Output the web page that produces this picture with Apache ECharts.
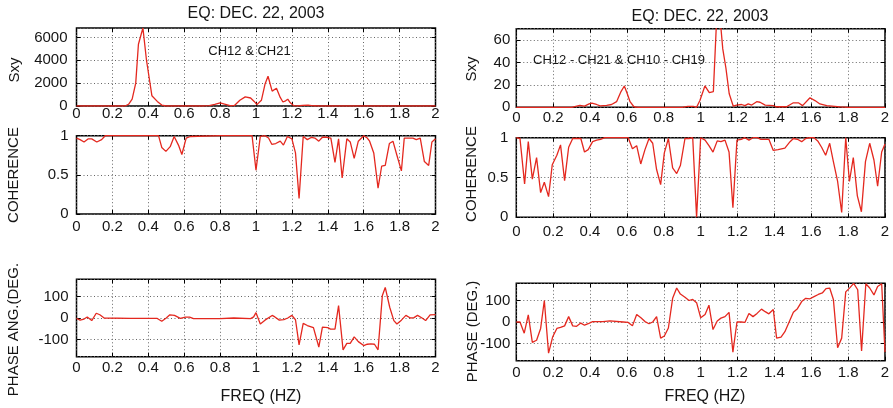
<!DOCTYPE html>
<html><head><meta charset="utf-8">
<script src="https://cdn.jsdelivr.net/npm/echarts@6/dist/echarts.min.js"></script>
<style>html,body{margin:0;padding:0;background:#fff}#c{width:893px;height:408px}</style>
</head><body><div id="c"></div>
<script>
// ---------- data ----------
const xTicks = [0,0.2,0.4,0.6,0.8,1,1.2,1.4,1.6,1.8,2];

// Left column: CH12 & CH21
const sxyLeftFreq = [0,0.1,0.2,0.27,0.29,0.31,0.33,0.345,0.37,0.39,0.42,0.45,0.475,0.5,0.6,0.7,0.74,0.77,0.8,0.83,0.86,0.88,0.91,0.94,0.97,0.99,1.005,1.03,1.05,1.067,1.09,1.114,1.135,1.15,1.165,1.177,1.19,1.21,1.23,1.26,1.29,1.32,1.35,2.0];
const sxyLeftVal  = [0,0,0,0,150,600,2000,5400,6820,4000,900,400,80,0,0,0,30,150,280,150,20,50,500,800,700,400,120,500,1900,2600,1300,1550,750,350,450,600,300,30,0,50,80,20,0,0];

const cohLeftFreq = [0,0.02,0.042,0.066,0.085,0.113,0.14,0.16,0.3,0.457,0.475,0.498,0.522,0.544,0.568,0.587,0.611,0.634,0.8,0.978,0.987,1.0,1.024,1.05,1.07,1.088,1.11,1.135,1.153,1.175,1.2,1.22,1.24,1.263,1.286,1.31,1.328,1.35,1.37,1.395,1.417,1.44,1.46,1.48,1.506,1.525,1.547,1.57,1.6,1.62,1.633,1.656,1.68,1.7,1.72,1.743,1.763,1.785,1.81,1.826,1.85,1.874,1.893,1.915,1.938,1.962,1.98,2.0];
const cohLeftVal  = [0.97,0.95,0.92,0.96,0.96,0.92,0.95,1.0,1.0,1.0,0.85,0.8,0.86,0.99,0.88,0.76,0.97,0.99,1.0,1.0,0.98,0.56,0.99,1.0,0.97,0.89,0.9,0.93,0.88,0.99,0.96,0.78,0.2,0.99,0.95,0.98,0.97,0.93,0.98,0.98,0.97,0.66,0.96,0.46,0.96,0.92,0.71,0.93,1.0,0.97,0.93,0.78,0.33,0.61,0.62,0.9,0.93,0.75,0.55,0.97,0.97,0.97,0.95,0.97,0.67,0.62,0.92,0.96];

const phLeftFreq = [0,0.02,0.042,0.06,0.085,0.11,0.13,0.154,0.3,0.45,0.475,0.5,0.52,0.546,0.578,0.606,0.63,0.652,0.8,0.876,0.97,0.987,1.0,1.024,1.05,1.09,1.105,1.13,1.155,1.177,1.2,1.22,1.24,1.263,1.286,1.32,1.33,1.35,1.37,1.4,1.415,1.44,1.46,1.485,1.506,1.525,1.547,1.57,1.6,1.62,1.64,1.66,1.68,1.704,1.72,1.745,1.768,1.785,1.81,1.835,1.86,1.88,1.9,1.925,1.945,1.97,2.0];
const phLeftVal  = [-2,-10,-5,5,-12,22,15,0,-2,-2,-15,0,15,12,-2,4,4,-3,-3,0,-3,5,25,-28,-10,12,5,-10,-8,0,12,-8,-125,-25,-35,-45,-50,-135,-42,-45,-52,-52,58,-148,-118,-118,-88,-110,-128,-122,-120,-122,-148,105,142,50,-12,-28,-10,12,0,2,12,0,-12,15,16];

// Right column: CH12 - CH21 & CH10 - CH19
const sxyRightFreq = [0,0.3,0.31,0.345,0.37,0.395,0.41,0.435,0.455,0.49,0.517,0.544,0.568,0.586,0.602,0.617,0.638,0.66,0.9,0.93,0.96,0.978,0.996,1.023,1.047,1.069,1.087,1.105,1.12,1.137,1.155,1.177,1.195,1.222,1.24,1.258,1.277,1.304,1.322,1.35,1.394,1.41,1.466,1.503,1.53,1.553,1.593,1.62,1.647,1.684,1.756,1.8,2.0];
const sxyRightVal  = [0,0,0.8,1.8,1,3,3.8,2.5,1.2,1.8,2.5,5,14,19,12,5,0.5,0,0,0.8,0.8,0,6,19,13,14,80,80,52,35,12,1,2,2.5,1.5,3,2,5,4.5,2,1.5,0.5,0.5,4,4,1.5,8.5,6,3,1.5,0.3,0,0];

const cohRightFreq = [0,0.02,0.045,0.065,0.087,0.11,0.132,0.152,0.175,0.195,0.22,0.24,0.262,0.284,0.306,0.327,0.35,0.37,0.39,0.414,0.436,0.457,0.48,0.607,0.63,0.653,0.675,0.698,0.72,0.74,0.761,0.783,0.803,0.825,0.848,0.87,0.89,0.915,0.937,0.957,0.978,1.0,1.024,1.045,1.067,1.09,1.11,1.132,1.154,1.175,1.197,1.22,1.24,1.262,1.284,1.306,1.327,1.35,1.37,1.394,1.42,1.457,1.485,1.503,1.525,1.548,1.57,1.593,1.615,1.635,1.656,1.678,1.7,1.72,1.743,1.765,1.787,1.807,1.828,1.85,1.872,1.894,1.917,1.94,1.96,1.982,2.0];
const cohRightVal  = [1.0,0.99,0.42,0.95,0.48,0.75,0.31,0.44,0.26,0.66,0.78,0.91,0.46,0.88,0.99,0.99,0.99,0.82,0.85,0.95,0.97,0.98,1.0,1.0,0.86,0.9,0.67,0.85,0.99,0.93,0.6,0.41,0.81,0.99,0.62,0.55,0.65,0.99,0.99,1.0,0.0,1.0,0.97,0.9,0.82,0.96,0.95,0.97,0.82,0.12,0.97,0.98,1.0,0.97,1.0,1.0,0.98,0.98,0.98,0.84,0.85,0.87,0.95,0.99,0.98,0.95,0.99,1.0,1.0,0.96,0.88,0.78,0.93,0.7,0.45,0.06,1.0,0.45,0.75,0.27,0.07,0.7,0.93,0.72,0.39,0.82,0.92];

const phRightFreq = [0,0.02,0.043,0.065,0.087,0.11,0.132,0.152,0.175,0.197,0.22,0.24,0.262,0.284,0.306,0.327,0.35,0.37,0.39,0.414,0.47,0.508,0.58,0.607,0.63,0.653,0.676,0.698,0.72,0.74,0.761,0.783,0.803,0.825,0.848,0.87,0.89,0.915,0.937,0.957,0.978,1.0,1.024,1.045,1.067,1.09,1.11,1.132,1.154,1.175,1.197,1.22,1.24,1.262,1.284,1.306,1.33,1.35,1.37,1.394,1.412,1.436,1.457,1.48,1.503,1.525,1.548,1.57,1.593,1.615,1.638,1.66,1.68,1.7,1.72,1.743,1.765,1.787,1.81,1.83,1.852,1.873,1.896,1.917,1.94,1.96,1.982,2.0];
const phRightVal  = [0,0,-52,33,-95,-85,-30,100,-145,-70,-30,-25,-18,25,-18,-20,-5,-15,-8,2,2,5,0,-2,-18,35,20,2,-8,0,25,-75,-65,-28,110,158,130,115,100,105,90,20,35,78,-35,5,18,25,45,-140,0,0,-2,40,25,40,60,48,38,58,-75,-70,-45,0,45,62,95,110,108,118,128,135,155,158,105,-120,-75,140,160,180,150,-135,178,158,126,165,178,-140];

const titles = ['EQ: DEC. 22, 2003','EQ: DEC. 22, 2003'];
const notes = ['CH12 & CH21','CH12 - CH21 & CH10 - CH19'];
const yNames = ['Sxy','COHERENCE','PHASE ANG.(DEG.','Sxy','COHERENCE','PHASE (DEG.)'];
const xName = 'FREQ (HZ)';

// ---------- layout / style ----------
const FONT = '"Liberation Sans", Arial, Helvetica, sans-serif';
const RED = '#e4281f';
const INK = '#151515';
const grids = [
  {left:76.5, top:28,    width:359,   height:78},
  {left:76.5, top:135.7, width:359,   height:78.3},
  {left:76.5, top:279.3, width:359,   height:77.4},
  {left:516.3, top:28.7, width:368.7, height:78.6},
  {left:516.3, top:137.7,width:368.7, height:79.6},
  {left:516.3, top:283.3,width:368.7, height:77.4}
];
const yCfg = [
  {min:0, max:6820, splitNumber:4, hideMin:false, hideMax:true, margin:9},
  {min:0, max:1, interval:0.5, margin:8},
  {min:-180, max:180, splitNumber:4, hideMin:true, hideMax:true, margin:8},
  {min:0, max:70, splitNumber:4, hideMin:false, hideMax:true, margin:6},
  {min:0, max:1, interval:0.5, margin:8},
  {min:-180, max:180, splitNumber:4, hideMin:true, hideMax:true, margin:6}
];
const xMargins = [0,5,4,3,7,5];
const seriesData = [
  [sxyLeftFreq, sxyLeftVal],[cohLeftFreq, cohLeftVal],[phLeftFreq, phLeftVal],
  [sxyRightFreq, sxyRightVal],[cohRightFreq, cohRightVal],[phRightFreq, phRightVal]
];

const gridLine = {show:true, lineStyle:{color:'#666', width:1, type:[1,2.5]}};
const tick = {show:true, inside:true, length:4, lineStyle:{color:'#000'}};
const xAxes = [], yAxes = [], series = [];
grids.forEach((g, i) => {
  const yc = yCfg[i];
  xAxes.push({
    type:'value', gridIndex:i, min:0, max:2, interval:0.2, position:'bottom',
    axisLine:{show:false, onZero:false}, axisTick:tick,
    axisLabel:{color:INK, fontSize:15, fontFamily:FONT, margin:xMargins[i],
      formatter:v => String(+v.toFixed(1))},
    splitLine:gridLine
  });
  xAxes.push({
    type:'value', gridIndex:i, min:0, max:2, interval:0.2, position:'top',
    axisLine:{show:false, onZero:false}, axisTick:tick,
    axisLabel:{show:false}, splitLine:{show:false}
  });
  const y = {
    type:'value', gridIndex:i, min:yc.min, max:yc.max, position:'left',
    axisLine:{show:false, onZero:false}, axisTick:tick,
    axisLabel:{color:INK, fontSize:15, fontFamily:FONT, margin:yc.margin,
      showMinLabel:!yc.hideMin, showMaxLabel:!yc.hideMax, formatter:v => String(v)},
    splitLine:gridLine
  };
  if (yc.interval) y.interval = yc.interval; else y.splitNumber = yc.splitNumber;
  yAxes.push(y);
  const y2 = Object.assign({}, y, {position:'right', axisLabel:{show:false}, splitLine:{show:false}});
  yAxes.push(y2);
  const [fx, fv] = seriesData[i];
  series.push({
    type:'line', xAxisIndex:2*i, yAxisIndex:2*i, showSymbol:false, clip:true,
    data: fx.map((f, k) => [f, fv[k]]),
    lineStyle:{color:RED, width:1.3}, itemStyle:{color:RED}, animation:false
  });
});

const txt = (x, y, s, size, rot) => ({
  type:'text', x, y, rotation: rot ? Math.PI/2 : 0,
  style:{text:s, fill:INK, font:`${size}px ${FONT}`, textAlign:'center', textVerticalAlign:'middle'}
});

const graphic = [
  txt(256, 13.5, titles[0], 16),
  txt(700, 16.5, titles[1], 16),
  txt(249.5, 51, notes[0], 13),
  txt(619, 60, notes[1], 13),
  txt(15, 70, yNames[0], 15, true),
  txt(14, 175, yNames[1], 15, true),
  txt(14, 329.5, yNames[2], 15, true),
  txt(472, 69, yNames[3], 15, true),
  txt(472, 174, yNames[4], 15, true),
  txt(472.5, 331.5, yNames[5], 15, true),
  txt(261, 396.7, xName, 16),
  txt(705, 396.7, xName, 16)
];

const chart = echarts.init(document.getElementById('c'), null, {renderer:'canvas'});
chart.setOption({
  animation:false,
  backgroundColor:'#fff',
  grid: grids.map(g => Object.assign({show:true, borderColor:'#000', borderWidth:1.5, backgroundColor:'transparent', containLabel:false}, g)),
  xAxis:xAxes, yAxis:yAxes, series, graphic
});
</script></body></html>
